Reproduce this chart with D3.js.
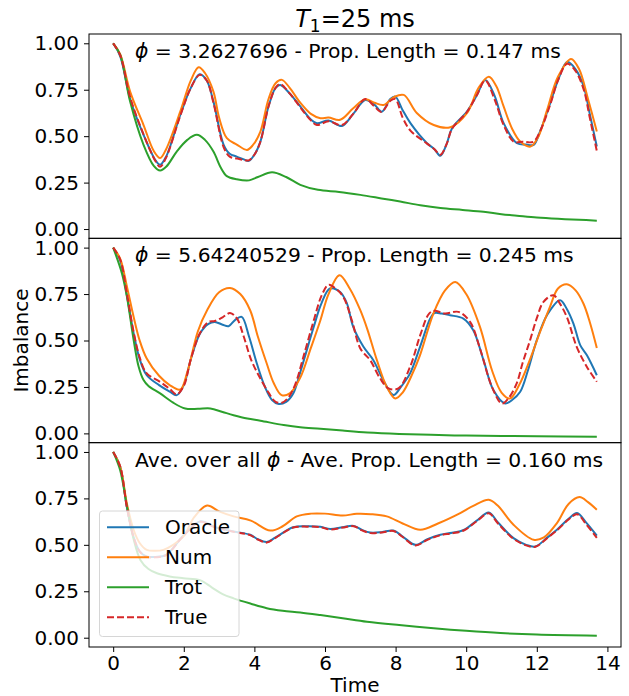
<!DOCTYPE html>
<meta charset="utf-8">
<style>
body { margin: 0; background: #fff; }
text { font-family: "DejaVu Sans"; fill: #000; }
.axis path, .axis line { stroke: #000; }
</style>
<body>
<svg id="chart" width="629" height="696"></svg>
<script src="https://cdn.jsdelivr.net/npm/d3@7"></script>
<script>

// ---- data, [time, imbalance] ----
var seriesNames = ["Oracle", "Num", "Trot", "True"];
var seriesColors = ["#1f77b4", "#ff7f0e", "#2ca02c", "#d62728"];
var xTicks = [0, 2, 4, 6, 8, 10, 12, 14];
var yTicks = [0, 0.25, 0.5, 0.75, 1.0];

var topOracle = [[0,1.0],[0.2,0.93],[0.48,0.70],[0.86,0.507],[1.2,0.37],[1.33,0.346],[1.5,0.39],[1.9,0.614],[2.2,0.76],[2.45,0.833],[2.65,0.80],[2.84,0.686],[3.13,0.453],[3.3,0.405],[3.5,0.39],[3.7,0.375],[3.84,0.367],[4.0,0.40],[4.17,0.471],[4.4,0.66],[4.6,0.76],[4.73,0.776],[5.0,0.73],[5.3,0.66],[5.6,0.59],[5.77,0.57],[6.1,0.584],[6.48,0.555],[6.8,0.62],[7.14,0.695],[7.4,0.67],[7.61,0.632],[7.85,0.70],[7.99,0.713],[8.2,0.64],[8.42,0.57],[8.89,0.462],[9.1,0.43],[9.27,0.394],[9.45,0.46],[9.6,0.543],[10.02,0.632],[10.3,0.72],[10.54,0.803],[10.8,0.72],[11.06,0.57],[11.44,0.462],[11.7,0.455],[11.91,0.453],[12.1,0.53],[12.38,0.677],[12.6,0.80],[12.86,0.90],[13.1,0.86],[13.33,0.767],[13.5,0.62],[13.7,0.444]];
var topNum = [[0,1.0],[0.2,0.94],[0.48,0.74],[0.86,0.56],[1.15,0.42],[1.33,0.382],[1.5,0.43],[1.9,0.632],[2.2,0.80],[2.42,0.871],[2.6,0.84],[2.84,0.74],[3.0,0.60],[3.22,0.489],[3.5,0.455],[3.79,0.426],[3.95,0.45],[4.17,0.525],[4.4,0.70],[4.6,0.785],[4.78,0.803],[5.0,0.76],[5.3,0.68],[5.6,0.62],[5.87,0.597],[6.1,0.60],[6.43,0.588],[6.8,0.65],[7.14,0.699],[7.4,0.68],[7.66,0.668],[7.95,0.71],[8.23,0.722],[8.6,0.625],[9.08,0.56],[9.55,0.548],[10.02,0.624],[10.35,0.76],[10.64,0.82],[10.85,0.77],[11.06,0.66],[11.3,0.54],[11.53,0.471],[11.82,0.444],[12.05,0.50],[12.29,0.64],[12.6,0.82],[12.97,0.916],[13.2,0.86],[13.45,0.70],[13.7,0.525]];
var topTrot = [[0,1.0],[0.2,0.937],[0.48,0.686],[0.86,0.453],[1.15,0.34],[1.33,0.315],[1.5,0.335],[1.8,0.417],[2.1,0.48],[2.37,0.507],[2.6,0.48],[2.84,0.417],[3.05,0.33],[3.22,0.285],[3.5,0.268],[3.85,0.262],[4.1,0.28],[4.5,0.306],[4.9,0.28],[5.3,0.238],[5.8,0.211],[6.4,0.20],[7.0,0.184],[7.6,0.165],[8.13,0.148],[8.7,0.128],[9.27,0.113],[9.9,0.103],[10.49,0.093],[11.0,0.08],[11.44,0.072],[12.0,0.062],[12.6,0.055],[13.2,0.05],[13.7,0.045]];
var topTrue = [[0,1.0],[0.2,0.935],[0.48,0.71],[0.86,0.51],[1.2,0.365],[1.33,0.335],[1.5,0.385],[1.9,0.61],[2.2,0.76],[2.45,0.83],[2.65,0.80],[2.84,0.68],[3.13,0.44],[3.3,0.39],[3.5,0.38],[3.7,0.372],[3.84,0.37],[4.0,0.40],[4.17,0.47],[4.4,0.66],[4.6,0.76],[4.73,0.78],[5.0,0.73],[5.3,0.655],[5.6,0.585],[5.77,0.56],[6.1,0.58],[6.48,0.56],[6.8,0.62],[7.14,0.70],[7.4,0.66],[7.6,0.63],[7.85,0.69],[7.99,0.70],[8.2,0.60],[8.42,0.53],[8.89,0.46],[9.1,0.43],[9.27,0.40],[9.45,0.46],[9.6,0.54],[10.02,0.63],[10.3,0.72],[10.54,0.80],[10.8,0.70],[11.06,0.56],[11.35,0.47],[11.6,0.47],[11.9,0.47],[12.1,0.53],[12.38,0.67],[12.6,0.80],[12.86,0.89],[13.1,0.85],[13.33,0.75],[13.5,0.60],[13.7,0.42]];

var midOracle = [[0,1.0],[0.2,0.93],[0.39,0.74],[0.58,0.538],[0.75,0.40],[0.95,0.313],[1.3,0.26],[1.6,0.225],[1.8,0.206],[2.0,0.26],[2.2,0.40],[2.46,0.538],[2.7,0.59],[2.88,0.60],[3.1,0.585],[3.27,0.577],[3.45,0.61],[3.64,0.627],[3.85,0.52],[4.07,0.376],[4.3,0.25],[4.5,0.18],[4.69,0.158],[4.9,0.17],[5.1,0.215],[5.3,0.33],[5.68,0.573],[5.9,0.70],[6.14,0.78],[6.43,0.761],[6.62,0.70],[6.8,0.573],[7.09,0.466],[7.37,0.394],[7.65,0.287],[7.94,0.206],[8.15,0.25],[8.41,0.323],[8.7,0.47],[8.98,0.618],[9.1,0.648],[9.3,0.645],[9.54,0.636],[9.92,0.618],[10.2,0.555],[10.49,0.394],[10.77,0.233],[11.1,0.161],[11.3,0.18],[11.53,0.224],[11.75,0.34],[12.0,0.502],[12.3,0.64],[12.66,0.717],[12.85,0.67],[13.04,0.59],[13.23,0.475],[13.42,0.42],[13.7,0.313]];
var midNum = [[0,1.0],[0.2,0.94],[0.39,0.79],[0.58,0.627],[0.75,0.50],[0.95,0.403],[1.3,0.31],[1.6,0.26],[1.9,0.236],[2.1,0.33],[2.4,0.55],[2.66,0.663],[3.0,0.76],[3.31,0.783],[3.6,0.75],[3.88,0.663],[4.1,0.52],[4.35,0.376],[4.55,0.27],[4.77,0.206],[5.0,0.215],[5.3,0.30],[5.6,0.46],[5.87,0.609],[6.1,0.75],[6.41,0.851],[6.7,0.78],[7.0,0.663],[7.2,0.56],[7.47,0.394],[7.75,0.25],[7.99,0.188],[8.2,0.22],[8.45,0.31],[8.69,0.42],[9.07,0.645],[9.4,0.77],[9.69,0.815],[10.0,0.75],[10.39,0.573],[10.73,0.34],[11.0,0.22],[11.24,0.188],[11.5,0.26],[11.8,0.394],[12.1,0.55],[12.37,0.68],[12.6,0.78],[12.85,0.803],[13.1,0.77],[13.32,0.699],[13.5,0.60],[13.7,0.46]];
var midTrot = [[0,1.0],[0.25,0.86],[0.39,0.735],[0.58,0.502],[0.72,0.36],[0.86,0.287],[1.0,0.255],[1.33,0.215],[1.7,0.165],[2.04,0.134],[2.4,0.132],[2.75,0.134],[3.1,0.115],[3.41,0.098],[3.8,0.08],[4.17,0.068],[4.83,0.045],[5.3,0.033],[5.87,0.025],[6.5,0.015],[7.2,0.005],[8.1,-0.003],[9.0,-0.008],[10.0,-0.012],[11.0,-0.014],[12.0,-0.016],[13.7,-0.018]];
var midTrue = [[0,1.0],[0.2,0.935],[0.39,0.75],[0.58,0.545],[0.75,0.41],[0.95,0.323],[1.33,0.277],[1.6,0.24],[1.8,0.21],[2.0,0.255],[2.2,0.40],[2.46,0.54],[2.7,0.60],[2.88,0.605],[3.1,0.625],[3.31,0.648],[3.5,0.62],[3.7,0.52],[3.9,0.40],[4.1,0.32],[4.4,0.22],[4.6,0.17],[4.78,0.165],[4.95,0.19],[5.15,0.26],[5.4,0.42],[5.7,0.62],[5.9,0.74],[6.1,0.80],[6.3,0.78],[6.52,0.734],[6.76,0.609],[7.0,0.457],[7.28,0.394],[7.56,0.296],[7.8,0.242],[8.08,0.242],[8.41,0.358],[8.7,0.53],[8.95,0.645],[9.1,0.66],[9.4,0.645],[9.78,0.654],[10.11,0.60],[10.39,0.457],[10.73,0.25],[11.01,0.161],[11.2,0.19],[11.43,0.269],[11.6,0.38],[11.81,0.502],[12.0,0.62],[12.19,0.708],[12.47,0.744],[12.65,0.70],[12.85,0.627],[13.13,0.466],[13.42,0.358],[13.7,0.278]];

var aveOracle = [[0,1.0],[0.2,0.92],[0.39,0.70],[0.58,0.54],[0.75,0.465],[0.95,0.437],[1.2,0.435],[1.5,0.446],[1.99,0.55],[2.46,0.626],[2.9,0.595],[3.41,0.572],[3.88,0.554],[4.1,0.53],[4.35,0.515],[4.6,0.54],[5.1,0.595],[5.5,0.60],[5.87,0.597],[6.15,0.585],[6.5,0.595],[6.81,0.602],[7.05,0.58],[7.28,0.566],[7.6,0.568],[7.94,0.577],[8.2,0.545],[8.56,0.50],[8.9,0.53],[9.27,0.554],[9.6,0.565],[9.93,0.58],[10.3,0.63],[10.64,0.674],[10.9,0.62],[11.34,0.536],[11.7,0.50],[11.96,0.491],[12.3,0.54],[12.57,0.581],[12.9,0.64],[13.14,0.671],[13.4,0.62],[13.7,0.55]];
var aveNum = [[0,1.0],[0.2,0.92],[0.39,0.72],[0.58,0.58],[0.75,0.51],[0.95,0.473],[1.2,0.468],[1.42,0.473],[1.7,0.50],[1.99,0.545],[2.3,0.65],[2.66,0.712],[3.0,0.68],[3.41,0.653],[3.9,0.63],[4.45,0.577],[4.8,0.60],[5.2,0.653],[5.6,0.668],[6.0,0.668],[6.5,0.658],[6.9,0.667],[7.3,0.665],[7.75,0.653],[8.2,0.615],[8.7,0.581],[9.2,0.615],[9.83,0.671],[10.2,0.71],[10.64,0.743],[10.9,0.71],[11.34,0.608],[11.91,0.527],[12.2,0.54],[12.57,0.617],[12.9,0.72],[13.21,0.757],[13.45,0.73],[13.7,0.689]];
var aveTrot = [[0,1.0],[0.2,0.9],[0.39,0.707],[0.58,0.53],[0.77,0.419],[1.0,0.37],[1.24,0.347],[1.6,0.33],[1.99,0.32],[2.46,0.31],[2.8,0.27],[3.1,0.235],[3.41,0.212],[3.9,0.183],[4.35,0.159],[4.8,0.145],[5.3,0.136],[5.87,0.122],[6.5,0.105],[7.19,0.086],[8.1,0.068],[9.08,0.051],[10.0,0.037],[10.97,0.025],[12.0,0.017],[13.7,0.011]];
var aveTrue = [[0,1.0],[0.2,0.92],[0.39,0.70],[0.58,0.54],[0.75,0.465],[0.95,0.435],[1.2,0.433],[1.5,0.445],[1.99,0.548],[2.46,0.624],[2.9,0.593],[3.41,0.57],[3.88,0.552],[4.1,0.528],[4.35,0.512],[4.6,0.538],[5.1,0.593],[5.5,0.598],[5.87,0.595],[6.15,0.582],[6.5,0.593],[6.81,0.60],[7.05,0.578],[7.28,0.563],[7.6,0.566],[7.94,0.575],[8.2,0.542],[8.56,0.497],[8.9,0.527],[9.27,0.552],[9.6,0.562],[9.93,0.577],[10.3,0.627],[10.64,0.67],[10.9,0.615],[11.34,0.532],[11.7,0.497],[11.96,0.49],[12.3,0.537],[12.57,0.578],[12.9,0.636],[13.14,0.665],[13.4,0.61],[13.7,0.538]];

var panelNotes = [
  ["", "\u03d5", " = 3.2627696 - Prop. Length = 0.147 ms"],
  ["", "\u03d5", " = 5.64240529 - Prop. Length = 0.245 ms"],
  ["Ave. over all ", "\u03d5", " - Ave. Prop. Length = 0.160 ms"]
];
var panels = [
  [topOracle, topNum, topTrot, topTrue],
  [midOracle, midNum, midTrot, midTrue],
  [aveOracle, aveNum, aveTrot, aveTrue]
];

// ---- layout ----
var svg = d3.select("#chart"),
    axLeft = 89, axRight = 621, axTop = 34, axBottom = 647,
    panelH = (axBottom - axTop) / 3;

var x = d3.scaleLinear().domain([-0.685, 14.385]).range([axLeft, axRight]);

var line = d3.line().curve(d3.curveCatmullRom.alpha(0.5));

panels.forEach(function(series, p) {
  var y0 = axTop + p * panelH;
  var y = d3.scaleLinear().domain([-0.05, 1.05]).range([y0 + panelH, y0]);
  line.x(function(d) { return x(d[0]); }).y(function(d) { return y(d[1]); });

  var g = svg.append("g");

  series.forEach(function(s, i) {
    g.append("path")
      .attr("d", line(s))
      .attr("fill", "none")
      .attr("stroke", seriesColors[i])
      .attr("stroke-width", 2)
      .attr("stroke-dasharray", i == 3 ? "7,3" : null);
  });

  var ya = g.append("g")
    .attr("class", "axis")
    .attr("transform", "translate(" + axLeft + ",0)")
    .call(d3.axisLeft(y).tickValues(yTicks).tickFormat(d3.format(".2f")).tickSize(5).tickPadding(5));
  ya.select(".domain").remove();
  ya.attr("font-size", null).attr("font-family", null);
  ya.selectAll("text").style("font-size", "20px");

  if (p == 2) {
    var xa = g.append("g")
      .attr("class", "axis")
      .attr("transform", "translate(0," + (y0 + panelH) + ")")
      .call(d3.axisBottom(x).tickValues(xTicks).tickSize(5).tickPadding(4));
    xa.select(".domain").remove();
    xa.attr("font-size", null).attr("font-family", null);
    xa.selectAll("text").style("font-size", "20px");
  }

  // frame
  g.append("rect")
    .attr("x", axLeft).attr("y", y0)
    .attr("width", axRight - axLeft).attr("height", panelH)
    .attr("fill", "none").attr("stroke", "#000").attr("stroke-width", 1);

  var note = g.append("text")
    .attr("x", 135).attr("y", y0 + 24)
    .style("font-size", "20.3px");
  note.append("tspan").text(panelNotes[p][0]);
  note.append("tspan").style("font-style", "italic").text(panelNotes[p][1]);
  note.append("tspan").text(panelNotes[p][2]);

  if (p == 2) {
    var lg = g.append("g");
    lg.append("rect")
      .attr("x", 99.5).attr("y", 511).attr("width", 139.5).attr("height", 125.5)
      .attr("rx", 3)
      .attr("fill", "#fff").attr("fill-opacity", 0.8)
      .attr("stroke", "#d6d6d6").attr("stroke-width", 1);
    seriesNames.forEach(function(n, i) {
      var ly = 527.3 + i * 30;
      lg.append("line")
        .attr("x1", 107).attr("x2", 149).attr("y1", ly).attr("y2", ly)
        .attr("stroke", seriesColors[i]).attr("stroke-width", 2)
        .attr("stroke-dasharray", i == 3 ? "7,3" : null);
      lg.append("text")
        .attr("x", 165).attr("y", ly + 7)
        .style("font-size", "20px")
        .text(n);
    });
  }
});

// title and axis labels
var title = svg.append("text")
  .attr("x", (axLeft + axRight) / 2).attr("y", 27)
  .attr("text-anchor", "middle")
  .style("font-size", "24px");
title.append("tspan").style("font-style", "italic").text("T");
title.append("tspan").attr("dy", 5).style("font-size", "17px").text("1");
title.append("tspan").attr("dy", -5).text("=25 ms");

svg.append("text")
  .attr("x", (axLeft + axRight) / 2).attr("y", 692)
  .attr("text-anchor", "middle")
  .style("font-size", "20px")
  .text("Time");

svg.append("text")
  .attr("transform", "translate(28," + (axTop + 1.5 * panelH) + ") rotate(-90)")
  .attr("text-anchor", "middle")
  .style("font-size", "20px")
  .text("Imbalance");

</script>
</body>
